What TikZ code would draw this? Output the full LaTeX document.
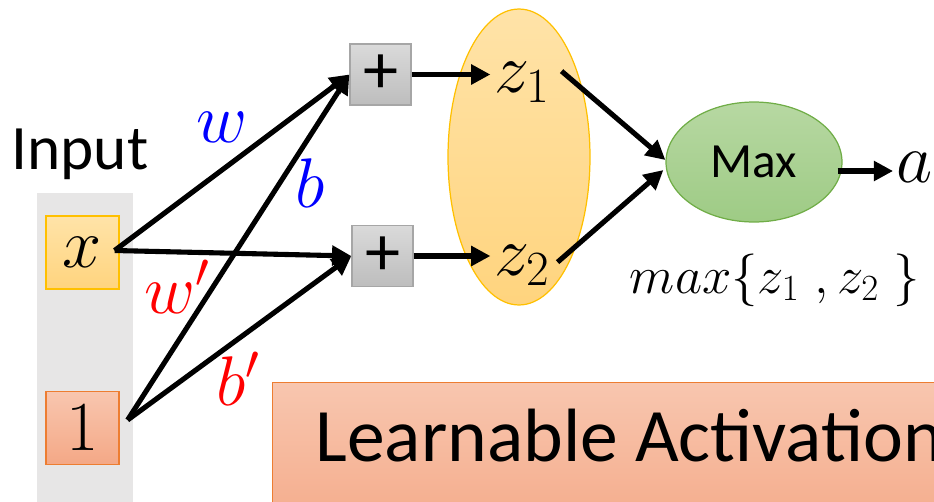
\RequirePackage{fix-cm}
\documentclass[tikz,border=0pt]{standalone}
\usepackage{amsmath}
\usepackage[no-math]{fontspec}
\newfontfamily\calib{Carlito}
\usetikzlibrary{arrows.meta, positioning, calc, shapes.geometric}
\definecolor{colgray}{HTML}{E7E6E6}
\definecolor{xtop}{HTML}{FFE3A8}
\definecolor{xbot}{HTML}{FFD47E}
\definecolor{xline}{HTML}{FFC000}
\definecolor{onetop}{HTML}{F8C6AF}
\definecolor{onebot}{HTML}{F4A886}
\definecolor{oneline}{HTML}{ED7D31}
\definecolor{plustop}{HTML}{DADADA}
\definecolor{plusbot}{HTML}{BDBDBD}
\definecolor{plusline}{HTML}{A6A6A6}
\definecolor{maxtop}{HTML}{B7D8A2}
\definecolor{maxbot}{HTML}{9ECB85}
\definecolor{maxline}{HTML}{70AD47}

\begin{document}
\begin{tikzpicture}[
        x=0.02cm, y=-0.02cm, % 按像素坐标
        mathlab/.style = {inner sep=2pt, font=\fontsize{40}{48}\selectfont},
        inbox/.style = {rectangle, minimum size=1.46cm, inner sep=0pt, line width=0.7pt, font=\fontsize{40}{48}\selectfont},
        plusbox/.style = {rectangle, minimum size=1.22cm, inner sep=0pt, top color=plustop, bottom color=plusbot, draw=plusline, line width=0.7pt, font=\calib\fontsize{40}{48}\selectfont},
        line/.style = {->, line width=2.9pt},
        >={Triangle[length=11pt, width=11pt]},
    ]
        \clip (0,0) rectangle (934,501);
        % 输入部分
        \node[fill=colgray, minimum width=1.92cm, minimum height=6.4cm, inner sep=0pt] (inputbg) at (85,353) {};
        \node[anchor=base, font=\calib\fontsize{36}{43}\selectfont] (input) at (80,169) {Input};
        \node[inbox, top color=xtop, bottom color=xbot, draw=xline] (xin) at (82.5,252.5) {$x$};
        \node[inbox, top color=onetop, bottom color=onebot, draw=oneline] (onein) at (82.5,428) {$1$};
        % 加法与 z
        \node[plusbox] (plus1) at (380.5,74.5) {+};
        \node[plusbox] (plus2) at (382.5,256) {+};
        \node[ellipse, minimum width=2.84cm, minimum height=5.92cm, inner sep=0pt, top color=xtop, bottom color=xbot, draw=xline, line width=0.7pt] (zset) at (519,157) {};
        \node[mathlab, anchor=base] (z1) at (522,92) {$z_1$};
        \node[mathlab, anchor=base] (z2) at (522,275) {$z_2$};
        % Max
        \node[ellipse, minimum width=3.52cm, minimum height=2.4cm, inner sep=0pt, top color=maxtop, bottom color=maxbot, draw=maxline, line width=0.7pt, font=\calib\fontsize{28}{34}\selectfont] (maxnode) at (754,162) {Max};
        \node[mathlab, anchor=base] (aout) at (915,182) {$a$};
        \node[mathlab, anchor=base, font=\fontsize{30}{36}\selectfont] (maxf) at (775,293) {$max\{z_1\;,z_2\;\}$};
        \node[anchor=north west, top color=onetop, bottom color=onebot!90!onetop, draw=oneline, line width=0.7pt, inner xsep=0.86cm, inner ysep=0pt, text height=1.58cm, text depth=1.38cm, font=\calib\fontsize{43}{52}\selectfont] (learn) at (272,382) {Learnable Activation};

        %定义辅助点
        \coordinate (X0) at ($(xin.east)+(-5,-2)$);
        \coordinate (S1) at ($(onein.east)+(8,-8)$);
        \coordinate (Z1) at ($(z1.east)+(8,-11)$);
        \coordinate (Z2) at ($(z2.east)+(4,-3)$);
        \coordinate (M1) at ($(maxnode.west)+(0,-2)$);
        \coordinate (M2) at ($(maxnode.west)+(-2,8)$);
        \coordinate (A0) at ($(maxnode.east)+(-5,9)$);

        \foreach \s/\t in {X0/plus1, X0/plus2, S1/plus1, S1/plus2}{
            \draw [line] (\s) -- (\t.west);
        }
        \foreach \n/\c/\px/\py/\lab in {lw/blue/222/142/w, lb/blue/310/207/b, lwp/red/177/313/w', lbp/red/238/405/b'}{
            \node[mathlab, anchor=base, text=\c] (\n) at (\px,\py) {$\lab$};
        }
        \draw [line] (plus1) -- (plus1 -| z1.west);
        \draw [line] (plus2) -- (plus2 -| z2.west);
        \draw [line] (Z1) -- (M1);
        \draw [line] (Z2) -- (M2);
        \draw [line] (A0) -- (A0 -| aout.west);
    \end{tikzpicture}
\end{document}
